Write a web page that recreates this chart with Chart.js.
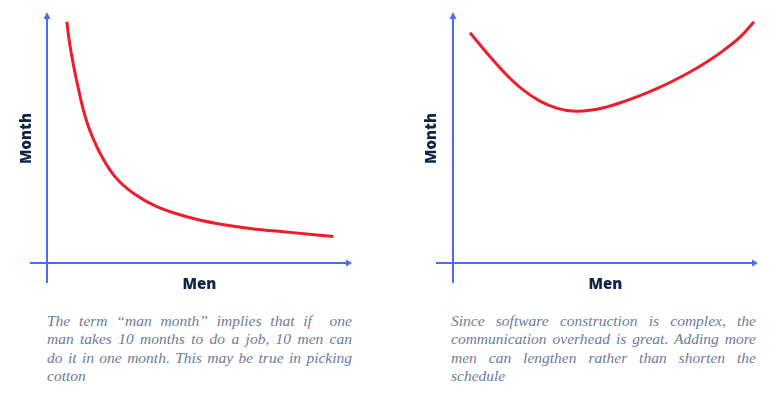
<!DOCTYPE html>
<html>
<head>
<meta charset="utf-8">
<script src="https://cdn.jsdelivr.net/npm/chart.js@4"></script>
<style>
  body { margin: 0; background: #fff; width: 780px; height: 399px; position: relative; overflow: hidden; }
  .box { position: absolute; top: 0; width: 390px; height: 300px; }
  .caption { position: absolute; top: 312px; width: 305px; font-family: "Liberation Serif", serif; font-style: italic; font-size: 15.5px; line-height: 18.4px; color: #6d7b95; }
  .caption div { text-align: justify; text-align-last: justify; white-space: nowrap; }
  .caption div.last { text-align-last: left; }
</style>
</head>
<body>
<div class="box" style="left:0"><canvas id="manChart" width="390" height="300"></canvas></div>
<div class="box" style="left:390px"><canvas id="overheadChart" width="390" height="300"></canvas></div>

<div class="caption" style="left:47px">
  <div>The term “man month” implies that if &nbsp;one</div>
  <div>man takes 10 months to do a job, 10 men can</div>
  <div>do it in one month. This may be true in picking</div>
  <div class="last">cotton</div>
</div>
<div class="caption" style="left:451px">
  <div>Since software construction is complex, the</div>
  <div>communication overhead is great. Adding more</div>
  <div>men can lengthen rather than shorten the</div>
  <div class="last">schedule</div>
</div>

<script>
// left chart: ideal man-month curve
const menA = [0.65, 0.75, 0.99, 1.32, 1.74, 2.23, 2.83, 3.60, 4.58, 5.56, 6.66, 7.97, 9.39];
const monthsA = [9.69, 8.76, 7.22, 5.61, 4.41, 3.47, 2.80, 2.26, 1.86, 1.59, 1.39, 1.23, 1.06];

// right chart: with communication overhead
const menB = [0.56, 1.21, 1.76, 2.30, 2.85, 3.40, 3.93, 4.49, 5.04, 5.57, 6.13, 6.68, 7.21, 7.77, 8.32, 8.85, 9.41, 9.87];
const monthsB = [9.25, 8.29, 7.55, 6.95, 6.50, 6.22, 6.10, 6.13, 6.27, 6.47, 6.72, 7.00, 7.31, 7.67, 8.07, 8.52, 9.07, 9.69];

const xTitle = "Men";
const yTitle = "Month";

const axisColor = "#4d6cf6";
const curveColor = "#ee1d2b";
const labelColor = "#0f2447";

// draws both axes crossing at 0 with arrow heads
const arrowAxes = {
    id: "arrowAxes",
    beforeDatasetsDraw(chart) {
        const ctx = chart.ctx;
        const area = chart.chartArea;
        const x0 = chart.scales.x.getPixelForValue(0);
        const y0 = chart.scales.y.getPixelForValue(0);
        ctx.save();
        ctx.strokeStyle = axisColor;
        ctx.fillStyle = axisColor;
        ctx.lineWidth = 2;
        ctx.beginPath();
        ctx.moveTo(x0 - 17, y0);
        ctx.lineTo(area.right - 4, y0);
        ctx.moveTo(x0, y0 + 20);
        ctx.lineTo(x0, area.top + 4);
        ctx.stroke();
        // arrow heads
        ctx.beginPath();
        ctx.moveTo(area.right, y0);
        ctx.lineTo(area.right - 6, y0 - 3.5);
        ctx.lineTo(area.right - 6, y0 + 3.5);
        ctx.closePath();
        ctx.fill();
        ctx.beginPath();
        ctx.moveTo(x0, area.top - 2);
        ctx.lineTo(x0 - 3.5, area.top + 5);
        ctx.lineTo(x0 + 3.5, area.top + 5);
        ctx.closePath();
        ctx.fill();
        ctx.restore();
    }
};

function makeConfig(xs, ys, yTitlePad, pad) {
    const points = xs.map((x, i) => ({ x: x, y: ys[i] }));
    return {
        type: "line",
        data: {
            datasets: [{
                data: points,
                borderColor: curveColor,
                borderWidth: 3,
                pointRadius: 0,
                fill: false,
                tension: 0.4
            }]
        },
        options: {
            responsive: false,
            animation: false,
            layout: { padding: pad },
            plugins: { legend: { display: false }, tooltip: { enabled: false } },
            scales: {
                x: {
                    type: "linear",
                    min: 0,
                    max: 10,
                    grid: { display: false, drawTicks: false },
                    border: { display: false },
                    ticks: { display: false },
                    title: {
                        display: true,
                        text: xTitle,
                        color: labelColor,
                        font: { family: "'Open Sans'", size: 15, weight: 800, lineHeight: 1.2 },
                        padding: { top: 13, bottom: 4 }
                    }
                },
                y: {
                    min: 0,
                    max: 10,
                    grid: { display: false, drawTicks: false },
                    border: { display: false },
                    ticks: { display: false },
                    title: {
                        display: true,
                        text: yTitle,
                        color: labelColor,
                        font: { family: "'Open Sans'", size: 15, weight: 800, lineHeight: 1.2 },
                        padding: yTitlePad
                    }
                }
            }
        },
        plugins: [arrowAxes]
    };
}

new Chart(document.getElementById("manChart").getContext("2d"),
    makeConfig(menA, monthsA, { top: 18, bottom: 11 }, { left: 0, right: 38, top: 14, bottom: 2 }));

new Chart(document.getElementById("overheadChart").getContext("2d"),
    makeConfig(menB, monthsB, { top: 18, bottom: 12 }, { left: 15, right: 22, top: 14, bottom: 2 }));
</script>
</body>
</html>
